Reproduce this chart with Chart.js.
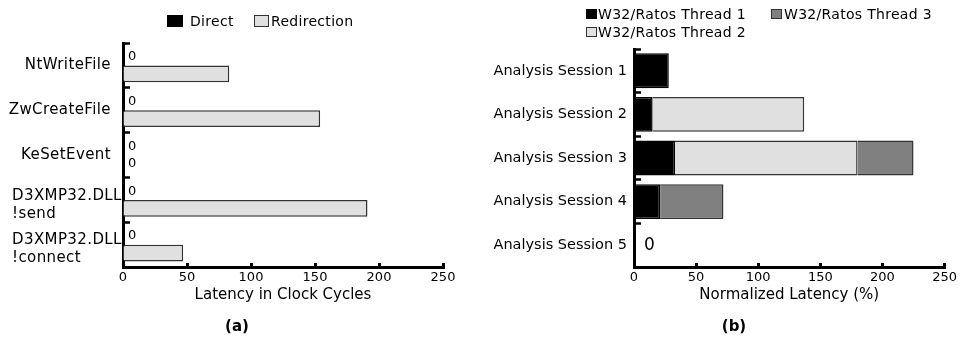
<!DOCTYPE html>
<html>
<head>
<meta charset="utf-8">
<script src="https://cdn.jsdelivr.net/npm/chart.js@4.4.1/dist/chart.umd.min.js"></script>
<style>
  body { margin: 0; background: #fff; }
  #wrap { position: relative; width: 964px; height: 339px; font-family: 'DejaVu Sans', sans-serif; color: #000; }
  canvas { position: absolute; top: 0; }
  .sw { position: absolute; box-sizing: border-box; }
  .lt { position: absolute; font-size: 14px; line-height: 16px; white-space: nowrap; transform: translateY(-50%); letter-spacing: 0.3px; }
  .cap { position: absolute; font-weight: bold; font-size: 15px; line-height: 18px; transform: translate(-50%, -50%); }
</style>
</head>
<body>
<div id="wrap">
  <canvas id="chartA" width="482" height="339" style="left:0"></canvas>
  <canvas id="chartB" width="482" height="339" style="left:482px"></canvas>
  <div id="legendA"></div>
  <div id="legendB"></div>
  <div class="cap" style="left:237px; top:326px">(a)</div>
  <div class="cap" style="left:734px; top:326px">(b)</div>
</div>
<script>
// (a) latency per API call
const apiCalls = ['NtWriteFile', 'ZwCreateFile', 'KeSetEvent', ['D3XMP32.DLL', '!send'], ['D3XMP32.DLL', '!connect']];
const directCycles = [0, 0, 0, 0, 0];
const redirectCycles = [83, 154, 0, 191, 47];

// (b) normalized latency per session
const sessions = ['Analysis Session 1', 'Analysis Session 2', 'Analysis Session 3', 'Analysis Session 4', 'Analysis Session 5'];
const thread1 = [28, 15, 33, 21, 0];
const thread2 = [0, 122, 147, 0, 0];
const thread3 = [0, 0, 45, 51, 0];

const X_MAX = 250;
const X_STEP = 50;

const FONT = "'DejaVu Sans', sans-serif";
Chart.defaults.font.family = FONT;
Chart.defaults.color = '#000';

function xAxis(title) {
  return {
    type: 'linear', min: 0, max: X_MAX,
    ticks: { stepSize: X_STEP, font: { size: 13 }, padding: 7, color: '#000' },
    grid: { drawOnChartArea: false, drawTicks: true, tickLength: -4, tickWidth: 3, tickColor: '#000' },
    border: { display: true, width: 3, color: '#000' },
    title: { display: true, text: title, font: { size: 15 }, padding: { top: 0, bottom: 3 }, color: '#000' },
    afterFit: s => { s.height = 40; }
  };
}

function yAxis(width, tickOpts) {
  return {
    ticks: tickOpts,
    grid: { drawOnChartArea: false, drawTicks: true, tickLength: -7, tickWidth: 2.5, tickColor: '#000' },
    border: { display: true, width: 3, color: '#000' },
    afterFit: s => { s.width = width; }
  };
}

// "0" labels next to empty bars
const zeroLabels = {
  id: 'zeroLabels',
  afterDatasetsDraw(chart, args, opts) {
    const ctx = chart.ctx;
    ctx.save();
    ctx.font = opts.size + 'px ' + FONT;
    ctx.fillStyle = '#000';
    ctx.textAlign = 'left';
    ctx.textBaseline = 'middle';
    const x0 = chart.scales.x.getPixelForValue(0);
    if (opts.stacked) {
      const meta = chart.getDatasetMeta(0);
      meta.data.forEach((el, i) => {
        const sum = chart.data.datasets.reduce((a, d) => a + d.data[i], 0);
        if (sum === 0) ctx.fillText('0', x0 + opts.dx, el.y);
      });
    } else {
      chart.data.datasets.forEach((d, di) => {
        chart.getDatasetMeta(di).data.forEach((el, i) => {
          if (d.data[i] === 0) ctx.fillText('0', x0 + opts.dx, el.y);
        });
      });
    }
    ctx.restore();
  }
};

// category labels for (a): single lines right aligned, two-line labels left aligned
const apiLabels = {
  id: 'apiLabels',
  afterDraw(chart) {
    const ctx = chart.ctx;
    const y = chart.scales.y;
    ctx.save();
    ctx.font = '15px ' + FONT;
    ctx.letterSpacing = '0.4px';
    ctx.fillStyle = '#000';
    ctx.textBaseline = 'middle';
    apiCalls.forEach((lab, i) => {
      const cy = y.getPixelForValue(i);
      if (Array.isArray(lab)) {
        ctx.textAlign = 'left';
        ctx.fillText(lab[0], 12, cy - 4);
        ctx.fillText(lab[1], 12, cy + 14);
      } else {
        ctx.textAlign = 'right';
        ctx.fillText(lab, 111, cy);
      }
    });
    ctx.restore();
  }
};

const chartA = new Chart(document.getElementById('chartA'), {
  type: 'bar',
  data: {
    labels: apiCalls,
    datasets: [
      { label: 'Direct', data: directCycles, backgroundColor: '#000', borderWidth: 0 },
      { label: 'Redirection', data: redirectCycles, backgroundColor: '#e0e0e0', borderColor: '#333', borderWidth: 1.5 }
    ]
  },
  options: {
    indexAxis: 'y',
    responsive: false,
    animation: false,
    categoryPercentage: 0.76,
    barPercentage: 0.98,
    layout: { padding: { top: 43, right: 39, bottom: 32, left: 0 } },
    plugins: { legend: { display: false }, tooltip: { enabled: false }, zeroLabels: { size: 13, dx: 5 } },
    scales: {
      x: xAxis('Latency in Clock Cycles'),
      y: yAxis(123, { color: 'rgba(0,0,0,0)' })
    }
  },
  plugins: [zeroLabels, apiLabels]
});

const chartB = new Chart(document.getElementById('chartB'), {
  type: 'bar',
  data: {
    labels: sessions,
    datasets: [
      { label: 'W32/Ratos Thread 1', data: thread1, backgroundColor: '#000', borderColor: '#000', borderWidth: 1.5 },
      { label: 'W32/Ratos Thread 2', data: thread2, backgroundColor: '#e0e0e0', borderColor: '#333', borderWidth: 1.5 },
      { label: 'W32/Ratos Thread 3', data: thread3, backgroundColor: '#808080', borderColor: '#333', borderWidth: 1.5 }
    ]
  },
  options: {
    indexAxis: 'y',
    responsive: false,
    animation: false,
    categoryPercentage: 0.8,
    barPercentage: 1,
    layout: { padding: { top: 49, right: 16, bottom: 32, left: 0 } },
    plugins: { legend: { display: false }, tooltip: { enabled: false }, zeroLabels: { size: 17, dx: 10, stacked: true } },
    scales: {
      x: Object.assign(xAxis('Normalized Latency (%)'), { stacked: true }),
      y: Object.assign(yAxis(152, { font: { size: 14.5 }, padding: 14, color: '#000' }), { stacked: true })
    }
  },
  plugins: [zeroLabels]
});

// legends as html, swatches taken from the datasets
function legend(el, chart, spots) {
  el.innerHTML = spots.map(p => {
    const ds = chart.data.datasets[p.i];
    const bw = ds.borderWidth ? 1.5 : 0;
    return `<div class="sw" style="left:${p.x}px;top:${p.y}px;width:${p.w}px;height:${p.h}px;background:${ds.backgroundColor};border:${bw}px solid ${ds.borderColor || '#000'}"></div>` +
      `<div class="lt" style="left:${p.tx}px;top:${p.y + p.h / 2}px">${ds.label}</div>`;
  }).join('');
}

legend(document.getElementById('legendA'), chartA, [
  { i: 0, x: 167, y: 15, w: 16, h: 12, tx: 190 },
  { i: 1, x: 254, y: 15, w: 15, h: 12, tx: 271 }
]);
legend(document.getElementById('legendB'), chartB, [
  { i: 0, x: 586, y: 9, w: 11, h: 10, tx: 598 },
  { i: 2, x: 771, y: 9, w: 11, h: 10, tx: 784 },
  { i: 1, x: 586, y: 27, w: 11, h: 10, tx: 598 }
]);
</script>
</body>
</html>
